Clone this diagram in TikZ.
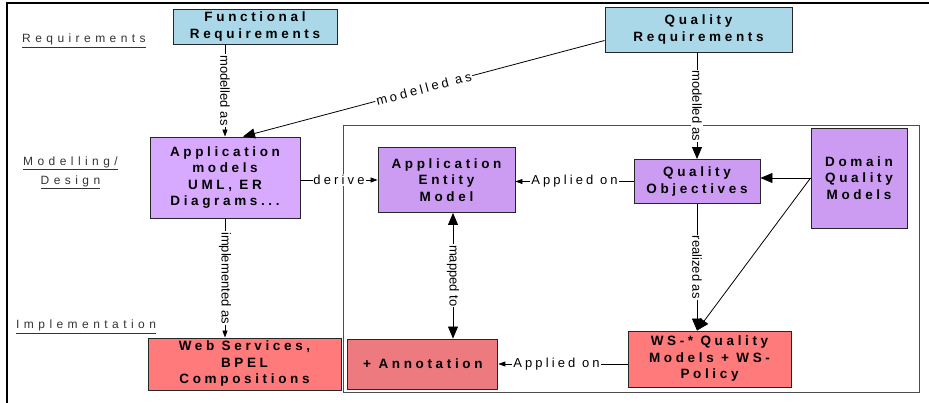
\documentclass[tikz,border=0pt]{standalone}
\usepackage{fontspec}
\setmainfont{Liberation Sans}
\newfontfamily\boxfont[LetterSpace=27]{Liberation Sans}
\newfontfamily\levelfont[LetterSpace=37]{Liberation Sans}
\newfontfamily\spacedfont[LetterSpace=24]{Liberation Sans}
\usetikzlibrary{arrows.meta, positioning}

\definecolor{reqblue}{RGB}{170,216,232}
\definecolor{modlilac}{RGB}{216,170,255}
\definecolor{qualilac}{RGB}{204,156,242}
\definecolor{implred}{RGB}{255,122,122}
\definecolor{annotred}{RGB}{236,122,126}

\begin{document}
\begin{tikzpicture} [
    x=1pt, y=-1pt,
    every node/.style={inner sep=1pt, align=center},
    box/.style={draw=black!85, line width=0.9pt, font=\boxfont\bfseries\fontsize{13.5}{16.5}\selectfont},
    reqbox/.style={box, fill=reqblue},
    modbox/.style={box, fill=modlilac},
    qualbox/.style={box, fill=qualilac},
    implbox/.style={box, fill=implred},
    level/.style={font=\levelfont\fontsize{12}{19}\selectfont, text=black!80},
    every edge/.style={draw, line width=0.8pt, ->, >={Triangle[length=7pt,width=5pt]}},
    big edge/.style={>={Triangle[length=12pt,width=10pt]}, ->},
    both edge/.style={>={Triangle[length=12pt,width=10pt]}, <->},
    lbl/.style={fill=white, inner sep=1pt, font=\spacedfont\fontsize{13}{15}\selectfont},
    vlbl/.style={fill=white, inner sep=1pt, rotate=-90, font=\fontsize{13}{15}\selectfont}
  ]
  \useasboundingbox (0,0) rectangle (929,403);

  % frame and the realization area
  \draw[line width=2.5pt] (7,403) -- (7,3) -- (929,3);
  \draw[black!70, line width=0.8pt] (343,125) rectangle (919,392);

  % Nodes and Positions
  % LEVEL: REQUIREMENTS
  \node (REQLBL) [level, anchor=base west] at (21,43) {\underline{Requirements}};
  \node (FUNCREQ) [reqbox, minimum width=164pt, minimum height=35pt] at (255,26.5) {Functional\\Requirements};
  \node (QUALREQ) [reqbox, minimum width=187pt, minimum height=45pt] at (698.5,29.5) {Quality\\Requirements};

  % LEVEL: MODELLING / DESIGN
  \node (DESLBL) [level] at (70.5,173) {\underline{Modelling/}\\\underline{Design}};
  \node (APPMODELS) [modbox, minimum width=150pt, minimum height=81pt] at (225,177.5) {Application\\models\\UML, ER\\Diagrams...};
  \node (ENTITY) [qualbox, minimum width=137pt, minimum height=65pt] at (446.5,180) {Application\\Entity\\Model};
  \node (QUALOBJ) [qualbox, minimum width=126pt, minimum height=44pt] at (697,181.5) {Quality\\Objectives};
  \node (DOMQUAL) [qualbox, minimum width=96pt, minimum height=100pt] at (859,178) {Domain\\Quality\\Models};

  % LEVEL: IMPLEMENTATION
  \node (IMPLLBL) [level, anchor=base west] at (15,329) {\underline{Implementation}};
  \node (WEBSVC) [implbox, minimum width=193pt, minimum height=52pt] at (244.5,364) {Web Services,\\BPEL\\Compositions};
  \node (ANNOT) [implbox, fill=annotred, minimum width=150pt, minimum height=50pt, right=6pt of WEBSVC] {+ Annotation};
  \node (WSPOLICY) [implbox, minimum width=163pt, minimum height=56pt] at (709.5,359) {WS-* Quality\\Models + WS-\\Policy};

  % Edges
  \path (FUNCREQ.south -| APPMODELS.north) edge node[vlbl] {modelled as} (APPMODELS.north);
  \path ([yshift=-11pt]QUALREQ.west) edge[big edge] node[lbl, sloped] {modelled as} ([xshift=18pt]APPMODELS.north);
  \path (QUALREQ.south -| QUALOBJ.north) edge[big edge] node[vlbl] {modelled as} (QUALOBJ.north);

  \path (APPMODELS.east |- ENTITY.west) edge node[lbl] {derive} (ENTITY.west);
  \path (QUALOBJ.west) edge node[lbl] {Applied on} (QUALOBJ.west -| ENTITY.east);
  \path (DOMQUAL.west) edge[big edge] (DOMQUAL.west -| QUALOBJ.east);

  \path (QUALOBJ.south) edge[big edge] node[vlbl] {realized as} (QUALOBJ.south |- WSPOLICY.north);
  \path (DOMQUAL.west) edge[big edge] (QUALOBJ.south |- WSPOLICY.north);
  \path ([xshift=6.5pt]ENTITY.south) edge[both edge] node[vlbl] {mapped to} ([xshift=6.5pt]ENTITY.south |- ANNOT.north);

  \path (WSPOLICY.west |- ANNOT.east) edge node[lbl, pos=0.55] {Applied on} (ANNOT.east);
  \path (APPMODELS.south) edge node[vlbl] {implemented as} (APPMODELS.south |- WEBSVC.north);

\end{tikzpicture}
\end{document}
